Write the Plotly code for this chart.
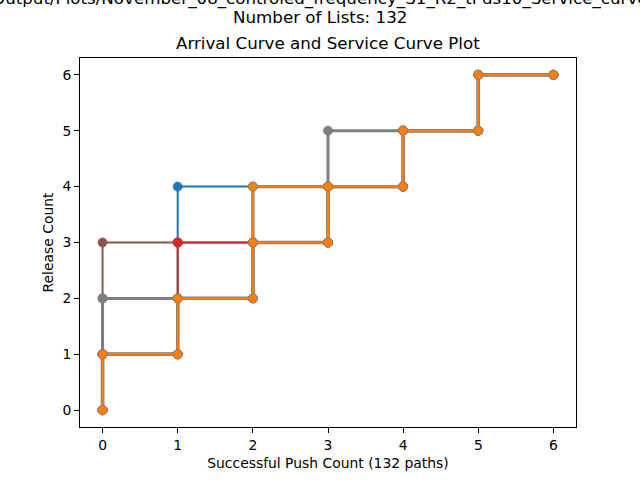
import plotly.graph_objects as go

# Staircase paths (push count, release count), in drawing order
blue_x = [0, 0, 1, 1, 1, 1, 2, 3, 4, 4, 5, 5, 6]
blue_y = [0, 1, 1, 2, 3, 4, 4, 4, 4, 5, 5, 6, 6]
brown_x = [0, 0, 0, 0, 1, 2, 3, 3, 4, 4, 5, 5, 6]
brown_y = [0, 1, 2, 3, 3, 3, 3, 4, 4, 5, 5, 6, 6]
red_x = [0, 0, 1, 1, 1, 2, 3, 3, 4, 4, 5, 5, 6]
red_y = [0, 1, 1, 2, 3, 3, 3, 4, 4, 5, 5, 6, 6]
gray_x = [0, 0, 0, 1, 2, 2, 3, 3, 3, 4, 5, 5, 6]
gray_y = [0, 1, 2, 2, 2, 3, 3, 4, 5, 5, 5, 6, 6]
orange_a_x = [0, 0, 1, 1, 2, 2, 2, 3, 4, 4, 5, 5, 6]
orange_a_y = [0, 1, 1, 2, 2, 3, 4, 4, 4, 5, 5, 6, 6]
orange_b_x = [0, 0, 1, 1, 2, 2, 3, 3, 4, 4, 5, 5, 6]
orange_b_y = [0, 1, 1, 2, 2, 3, 3, 4, 4, 5, 5, 6, 6]

n_lists = 132
tick_vals = [0, 1, 2, 3, 4, 5, 6]
file_name = "Output/Plots/November_08_controled_frequency_S1_R2_tPds10_Service_curve"

FONT = "DejaVu Sans"

paths = [
    (blue_x, blue_y, "#1f77b4"),
    (brown_x, brown_y, "#8c564b"),
    (red_x, red_y, "#d62728"),
    (gray_x, gray_y, "#7f7f7f"),
    (orange_a_x, orange_a_y, "#ff7f0e"),
    (orange_b_x, orange_b_y, "#ff7f0e"),
]

fig = go.Figure()

for x, y, color in paths:
    if color == "#ff7f0e":
        # grey fringe left by the many overlapping paths underneath
        fig.add_trace(go.Scatter(
            x=x, y=y, mode="lines",
            line=dict(color="#8a7a6a", width=3.4),
            hoverinfo="skip",
        ))
    fig.add_trace(go.Scatter(
        x=x, y=y, mode="lines+markers",
        line=dict(color=color, width=3 if color == "#7f7f7f" else 2),
        marker=dict(color=color, size=9,
                    line=dict(color="#8a7a6a" if color == "#ff7f0e" else color, width=0.8)),
    ))

axis_style = dict(
    showline=True, mirror=True, linecolor="black", linewidth=1,
    ticks="outside", ticklen=5, tickwidth=1, tickcolor="black",
    showgrid=False, zeroline=False, automargin=False,
    tickfont=dict(family=FONT, size=13.9, color="black"),
    tickvals=tick_vals,
)

fig.update_xaxes(range=[-0.3, 6.3], **axis_style,
                 title=dict(text=f"Successful Push Count ({n_lists} paths)",
                            font=dict(family=FONT, size=13.9, color="black"), standoff=6))
fig.update_yaxes(range=[-0.3, 6.3], **axis_style,
                 title=dict(text="Release Count",
                            font=dict(family=FONT, size=13.9, color="black"), standoff=5))

title_font = dict(family=FONT, size=16.7, color="black")
fig.add_annotation(text=file_name, xref="paper", yref="paper", x=0.484, y=1,
                   yanchor="bottom", yshift=47, showarrow=False, font=title_font)
fig.add_annotation(text=f"Number of Lists: {n_lists}", xref="paper", yref="paper",
                   x=0.484, y=1, yanchor="bottom", yshift=29, showarrow=False, font=title_font)
fig.add_annotation(text="Arrival Curve and Service Curve Plot", xref="paper", yref="paper",
                   x=0.5, y=1, yanchor="bottom", yshift=3, showarrow=False, font=title_font)

fig.update_layout(
    width=640, height=480,
    margin=dict(l=80, r=64, t=58, b=53),
    paper_bgcolor="white", plot_bgcolor="white",
    showlegend=False,
    font=dict(family=FONT, color="black"),
)

fig.write_html("out.html", config={"displayModeBar": False},
               post_script="document.body.style.margin='0';document.body.style.overflow='hidden';")
